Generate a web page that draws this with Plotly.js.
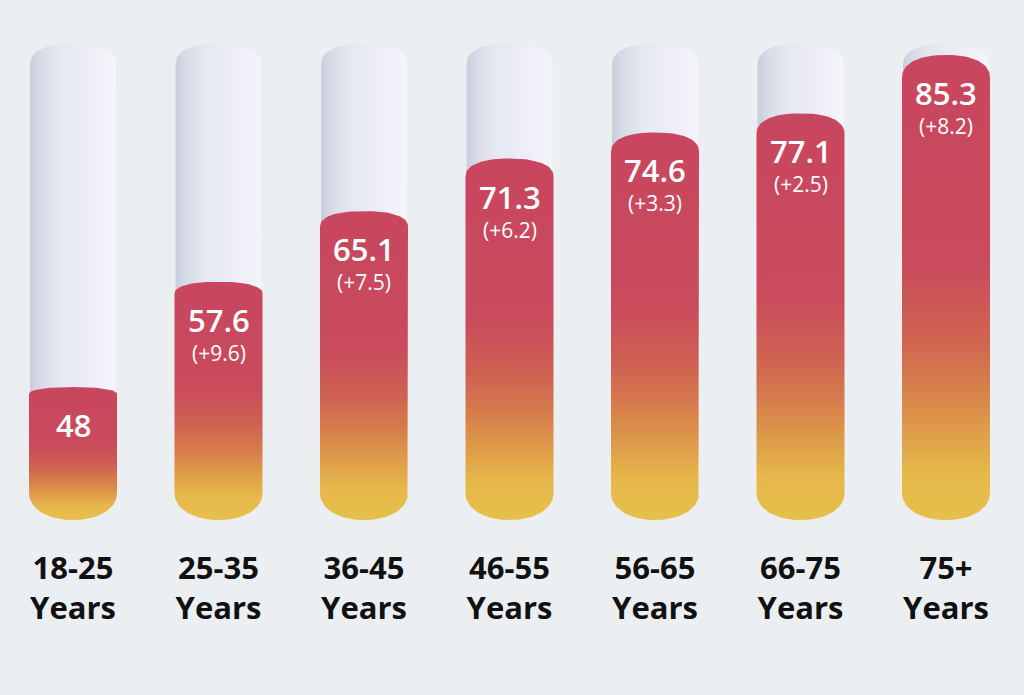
<!DOCTYPE html>
<html><head><meta charset="utf-8">
<script src="https://cdn.plot.ly/plotly-3.0.1.min.js"></script>
<style>html,body{margin:0;padding:0;background:#ECEFF2;} #chart{width:1024px;height:695px;}</style>
</head><body><div id="chart"></div>
<script>
// ---- data ----
const categories = ['18-25 Years','25-35 Years','36-45 Years','46-55 Years','56-65 Years','66-75 Years','75+ Years'];
const tickLabels = ['18-25<br>Years','25-35<br>Years','36-45<br>Years','46-55<br>Years','56-65<br>Years','66-75<br>Years','75+<br>Years'];
const values = [48, 57.6, 65.1, 71.3, 74.6, 77.1, 85.3];
const deltaLabels = ['', '(+9.6)', '(+7.5)', '(+6.2)', '(+3.3)', '(+2.5)', '(+8.2)'];

// ---- layout constants (styling) ----
const W = 1024, H = 695, MB = 150, PH = H - MB;
const LTOP = 1.9723, PXPERDEC = 1330, LBOT = LTOP - PH / PXPERDEC;
const XMIN = -73 / 145.5, XMAX = (1024 - 73) / 145.5;
const BAR_HW = 0.3024, TUBE_HW = 0.2955;
const BASE_PX = 520, BOT_CURVE = 27, TUBE_TOP_PX = 43, TUBE_CAP = 21;

function vAt(px) { return Math.pow(10, LTOP - px / PXPERDEC); }
function pxOf(v) { return (LTOP - Math.log10(v)) * PXPERDEC; }
function sp(c, e) { return Math.sign(c) * Math.pow(Math.abs(c), e); }

function capsule(xc, hw, topPx, domeH, botPx, botH, nTop, nBot) {
  const xs = [], ys = [], N = 40;
  for (let k = 0; k <= N; k++) {
    const t = Math.PI * (1 - k / N);
    xs.push(xc + hw * sp(Math.cos(t), 2 / nTop));
    ys.push(vAt(topPx + domeH - domeH * Math.pow(Math.abs(Math.sin(t)), 2 / nTop)));
  }
  for (let k = 0; k <= N; k++) {
    const t = -Math.PI * k / N;
    xs.push(xc + hw * sp(Math.cos(t), 2 / nBot));
    ys.push(vAt(botPx - botH + botH * Math.pow(Math.abs(Math.sin(t)), 2 / nBot)));
  }
  xs.push(xs[0]); ys.push(ys[0]);
  return { x: xs, y: ys };
}

const traces = [];
// background tubes
values.forEach((v, i) => {
  const c = capsule(i, TUBE_HW, TUBE_TOP_PX, TUBE_CAP, BASE_PX - 8, 20, 2.2, 2);
  traces.push({
    type: 'scatter', mode: 'lines', x: c.x, y: c.y, fill: 'toself',
    line: { width: 0, color: 'rgba(0,0,0,0)' }, hoverinfo: 'skip', showlegend: false,
    fillgradient: { type: 'horizontal', start: i - TUBE_HW, stop: i + TUBE_HW,
      colorscale: [[0, '#C9CDDC'], [0.12, '#D8DBE7'], [0.35, '#E6E8F2'], [0.7, '#EDEEF7'], [1, '#F5F6FB']] }
  });
});
// value bars
values.forEach((v, i) => {
  const top = pxOf(v);
  const h = BASE_PX - top;
  const dome = Math.max(7, 0.05 * h);
  const c = capsule(i, BAR_HW, top, dome, BASE_PX, BOT_CURVE, 2.3, 2.1);
  traces.push({
    type: 'scatter', mode: 'lines', x: c.x, y: c.y, fill: 'toself',
    line: { width: 0, color: 'rgba(0,0,0,0)' }, hoverinfo: 'skip', showlegend: false,
    fillgradient: { type: 'vertical', start: vAt(BASE_PX), stop: v,
      colorscale: [[0, '#E8BF4B'], [0.1, '#E6B94A'], [0.2, '#DE9A49'], [0.3, '#D67B4C'],
                   [0.4, '#CF6252'], [0.55, '#C94B5C'], [1, '#C8465F']] }
  });
});

const annotations = [];
values.forEach((v, i) => {
  annotations.push({ x: i, y: Math.log10(v), xref: 'x', yref: 'y', text: String(v), showarrow: false,
    yanchor: 'middle', yshift: -38,
    font: { family: 'Open Sans', size: 31, color: '#FFFFFF', weight: 600 } });
  if (deltaLabels[i]) annotations.push({ x: i, y: Math.log10(v), xref: 'x', yref: 'y', text: deltaLabels[i],
    showarrow: false, yanchor: 'middle', yshift: -71,
    font: { family: 'Open Sans', size: 21, color: '#FFFFFF', weight: 400 } });
});

const layout = {
  width: W, height: H, margin: { l: 0, r: 0, t: 0, b: MB },
  paper_bgcolor: '#ECEFF2', plot_bgcolor: '#ECEFF2', showlegend: false,
  xaxis: { range: [XMIN, XMAX], tickvals: values.map((v, i) => i), ticktext: tickLabels,
    showgrid: false, zeroline: false, showline: false, ticks: '', ticklabelstandoff: 2,
    tickfont: { family: 'Open Sans', size: 31, color: '#111111', weight: 700 }, fixedrange: true },
  yaxis: { type: 'log', range: [LBOT, LTOP], visible: false, showgrid: false, zeroline: false, fixedrange: true },
  annotations: annotations
};
Plotly.newPlot('chart', traces, layout, { displayModeBar: false, staticPlot: true });
</script></body></html>
